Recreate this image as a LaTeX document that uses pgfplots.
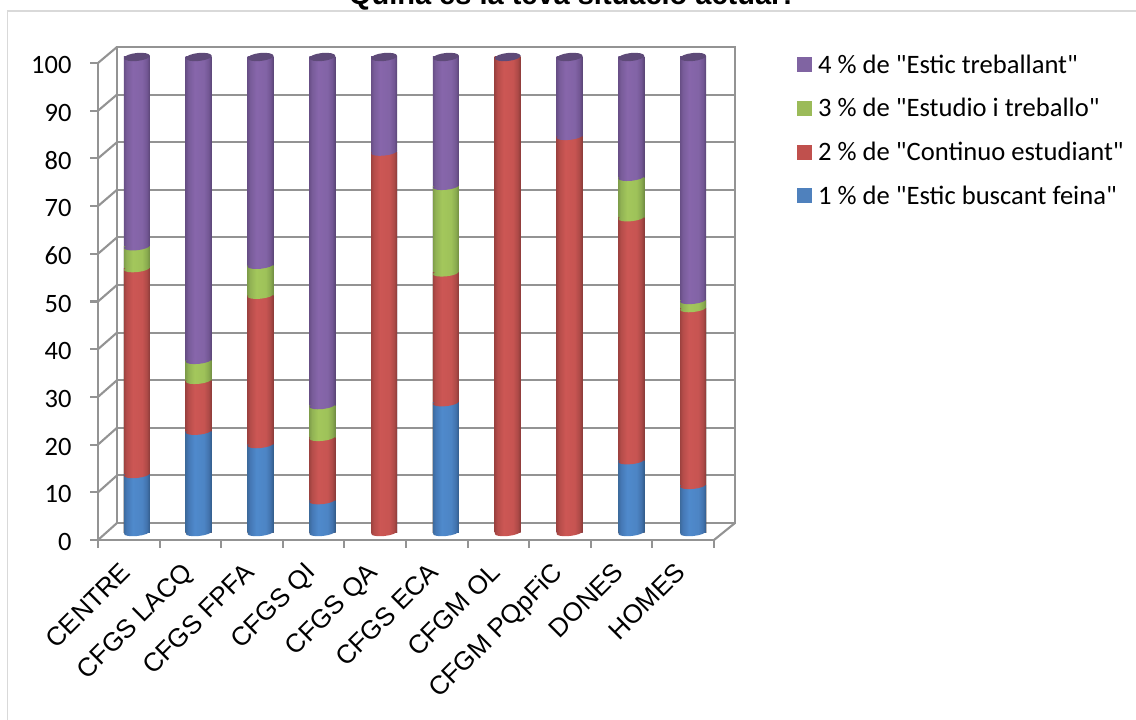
\documentclass[border=0pt]{standalone}
\usepackage{fontspec}
\usepackage{pgfplots}
\pgfplotsset{compat=1.18}
\setmainfont{Carlito}
\newfontfamily\legf{Carlito}
\newfontfamily\arialf{Liberation Sans}

\definecolor{wallgray}{HTML}{939393}
\definecolor{legblue}{HTML}{4F81BD}
\definecolor{legred}{HTML}{C0504D}
\definecolor{leggreen}{HTML}{9BBB59}
\definecolor{legpurple}{HTML}{8064A2}
\definecolor{captop}{HTML}{5E4A78}

% cylinder shading: narrow dark edges, light a bit left of centre
\pgfdeclarehorizontalshading{cylblue}{100bp}{rgb(0bp)=(0.24,0.42,0.62);rgb(25bp)=(0.24,0.42,0.62);rgb(30bp)=(0.27,0.47,0.71);rgb(42bp)=(0.31,0.54,0.80);rgb(60bp)=(0.30,0.52,0.77);rgb(69bp)=(0.26,0.45,0.68);rgb(75bp)=(0.20,0.36,0.54);rgb(100bp)=(0.20,0.36,0.54)}
\pgfdeclarehorizontalshading{cylred}{100bp}{rgb(0bp)=(0.62,0.26,0.25);rgb(25bp)=(0.62,0.26,0.25);rgb(30bp)=(0.71,0.30,0.29);rgb(42bp)=(0.80,0.34,0.33);rgb(60bp)=(0.78,0.33,0.32);rgb(69bp)=(0.68,0.29,0.28);rgb(75bp)=(0.54,0.23,0.22);rgb(100bp)=(0.54,0.23,0.22)}
\pgfdeclarehorizontalshading{cylgreen}{100bp}{rgb(0bp)=(0.50,0.62,0.29);rgb(25bp)=(0.50,0.62,0.29);rgb(30bp)=(0.57,0.70,0.33);rgb(42bp)=(0.64,0.78,0.36);rgb(60bp)=(0.62,0.76,0.35);rgb(69bp)=(0.54,0.67,0.31);rgb(75bp)=(0.44,0.55,0.26);rgb(100bp)=(0.44,0.55,0.26)}
\pgfdeclarehorizontalshading{cylpurple}{100bp}{rgb(0bp)=(0.41,0.31,0.53);rgb(25bp)=(0.41,0.31,0.53);rgb(30bp)=(0.47,0.36,0.60);rgb(42bp)=(0.53,0.40,0.67);rgb(60bp)=(0.51,0.39,0.65);rgb(69bp)=(0.45,0.34,0.58);rgb(75bp)=(0.35,0.27,0.46);rgb(100bp)=(0.35,0.27,0.46)}

% tilted ellipses for the joints
\newcommand\capmark[2]{\pgfdeclareplotmark{#1}{%
  \pgftransformrotate{6}%
  \pgfpathellipse{\pgfpointorigin}{\pgfpoint{13pt}{0pt}}{\pgfpoint{0pt}{3.5pt}}%
  \pgfshadepath{#2}{0}\pgfusepath{discard}}}
\capmark{capblue}{cylblue}
\capmark{capred}{cylred}
\capmark{capgreen}{cylgreen}
\capmark{cappurple}{cylpurple}
\pgfdeclareplotmark{captop}{%
  \pgftransformrotate{6}%
  \pgfpathellipse{\pgfpointorigin}{\pgfpoint{13pt}{0pt}}{\pgfpoint{0pt}{4pt}}%
  \pgfsetfillcolor{captop}\pgfusepath{fill}}

% one cylinder part: x, cumulative top, shading
\newcommand\seg[3]{\addplot[ybar,bar shift=0pt,bar width=26pt,shading=#3,draw=none,forget plot] coordinates {(#1,#2)};}
% square legend key, with the gap to its text
\newcommand\legkey[1]{\addlegendimage{legend image code/.code={\fill[#1,draw=none] (0pt,-7.5pt) rectangle (15pt,7.5pt);\path[draw=none,fill=none] (0pt,0pt) -- (19pt,0pt);}}}

\pgfplotsset{
  plain/.style={scale only axis, clip=false, xmin=-0.5, xmax=9.5, ymin=0, ymax=100},
}

\begin{document}
\begin{tikzpicture}[x=1pt,y=1pt]
\path[use as bounding box] (0,0) rectangle (1136,720);

% chart frame
\draw[gray!30,line width=1.5pt] (7.5,0) -- (7.5,709) -- (1136,709);

% title, cut by the page edge as in the reference
\node[anchor=base,font=\arialf\bfseries\fontsize{29}{29}\selectfont] at (573,715) {Quina és la teva situació actual?};

% back wall
\begin{axis}[plain, at={(117pt,197pt)}, anchor=south west, width=618pt, height=476pt,
    xtick=\empty, ytick={0,10,...,100}, yticklabels={}, grid=major,
    major tick length=0pt,
    axis line style={wallgray,line width=2.1pt},
    major grid style={wallgray,line width=2.1pt}]
\end{axis}

% floor and left wall edges
\foreach \i in {0,...,10}
  \draw[wallgray,line width=2.1pt] (98,{180+47.7*\i}) -- (117,{197+47.6*\i});
\draw[wallgray,line width=2.1pt] (714,180) -- (735,197);

% front axes with ticks
\begin{axis}[plain, at={(98pt,180pt)}, anchor=south west, width=616pt, height=477pt,
    axis x line=bottom, axis y line=left,
    axis line style={wallgray,line width=2.1pt,-},
    tick style={wallgray,line width=2.1pt},
    tick align=outside,
    major tick length=8pt,
    ytick={0,10,...,100},
    yticklabel style={font=\fontsize{26.5}{26.5}\selectfont,/pgf/number format/assume math mode=true,xshift=-15pt,yshift=-2pt},
    xtick={-0.5,0.5,...,9.5},
    xticklabels={},
    extra x ticks={0,...,9},
    extra x tick labels={CENTRE,CFGS LACQ,CFGS FPFA,CFGS QI,CFGS QA,CFGS ECA,CFGM OL,CFGM PQpFiC,DONES,HOMES},
    extra x tick style={major tick length=0pt},
    xticklabel style={font=\arialf\fontsize{26}{26}\selectfont,rotate=45,anchor=north east,inner sep=2pt,xshift=-19.3pt,yshift=-6pt}]
\end{axis}

% cylinders, tallest part first: the parts are cumulative
\begin{axis}[plain, at={(106pt,187.5pt)}, anchor=south west, width=618pt, height=475.5pt,
    hide axis,
    legend style={at={(691pt,480pt)},anchor=north west,draw=none,fill=none,
      font=\legf\fontsize{26.6}{26.6}\selectfont,row sep=19.7pt,inner sep=0pt,
      legend cell align=left},
    legend plot pos=left]
\seg{0}{100}{cylpurple}\seg{0}{60.1}{cylgreen}\seg{0}{55.5}{cylred}\seg{0}{12.2}{cylblue}
\seg{1}{100}{cylpurple}\seg{1}{36.2}{cylgreen}\seg{1}{32}{cylred}\seg{1}{21.3}{cylblue}
\seg{2}{100}{cylpurple}\seg{2}{56.2}{cylgreen}\seg{2}{49.9}{cylred}\seg{2}{18.5}{cylblue}
\seg{3}{100}{cylpurple}\seg{3}{26.7}{cylgreen}\seg{3}{20}{cylred}\seg{3}{6.7}{cylblue}
\seg{4}{100}{cylpurple}\seg{4}{80}{cylred}
\seg{5}{100}{cylpurple}\seg{5}{72.8}{cylgreen}\seg{5}{54.6}{cylred}\seg{5}{27.3}{cylblue}
\seg{6}{100}{cylred}
\seg{7}{100}{cylpurple}\seg{7}{83.3}{cylred}
\seg{8}{100}{cylpurple}\seg{8}{74.7}{cylgreen}\seg{8}{66.2}{cylred}\seg{8}{15.1}{cylblue}
\seg{9}{100}{cylpurple}\seg{9}{48.8}{cylgreen}\seg{9}{47.1}{cylred}\seg{9}{9.9}{cylblue}
% curved joints at the same cumulative values
\addplot[only marks,mark=capblue,forget plot] coordinates {(0,0)(1,0)(2,0)(3,0)(5,0)(8,0)(9,0)};
\addplot[only marks,mark=capred,forget plot] coordinates {(0,12.2)(1,21.3)(2,18.5)(3,6.7)(4,0)(5,27.3)(6,0)(7,0)(8,15.1)(9,9.9)};
\addplot[only marks,mark=capgreen,forget plot] coordinates {(0,55.5)(1,32)(2,49.9)(3,20)(5,54.6)(8,66.2)(9,47.1)};
\addplot[only marks,mark=cappurple,forget plot] coordinates {(0,60.1)(1,36.2)(2,56.2)(3,26.7)(4,80)(5,72.8)(7,83.3)(8,74.7)(9,48.8)};
\addplot[only marks,mark=captop,forget plot] coordinates {(0,100)(1,100)(2,100)(3,100)(4,100)(5,100)(6,100)(7,100)(8,100)(9,100)};
\legkey{legpurple}
\addlegendentry{4 \% de "Estic treballant"}
\legkey{leggreen}
\addlegendentry{3 \% de "Estudio i treballo"}
\legkey{legred}
\addlegendentry{2 \% de "Continuo estudiant"}
\legkey{legblue}
\addlegendentry{1 \% de "Estic buscant feina"}
\end{axis}
\end{tikzpicture}
\end{document}
